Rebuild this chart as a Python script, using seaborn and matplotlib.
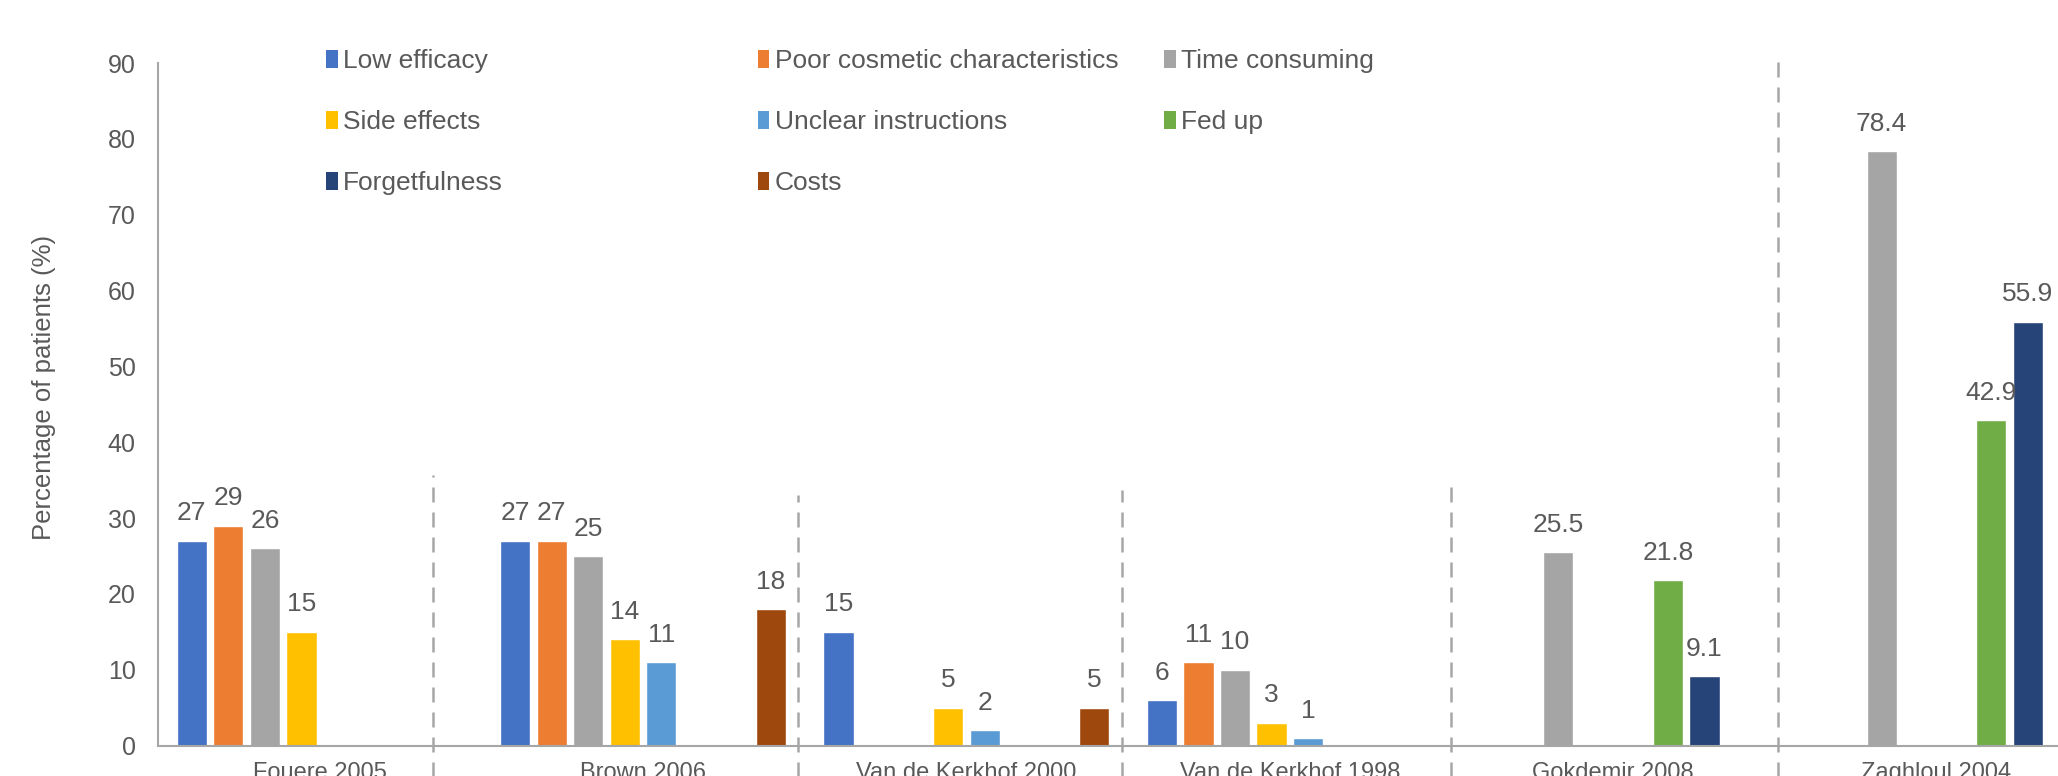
import pandas as pd
import matplotlib
matplotlib.use("Agg")
from matplotlib import pyplot as plt
from matplotlib.patches import Patch
import seaborn as sns

studies = ["Fouere 2005", "Brown 2006", "Van de Kerkhof 2000",
           "Van de Kerkhof 1998", "Gokdemir 2008", "Zaghloul 2004"]
reasons = ["Low efficacy", "Poor cosmetic characteristics", "Time consuming",
           "Side effects", "Unclear instructions", "Fed up", "Forgetfulness", "Costs"]
colors = ["#4472C4", "#ED7D31", "#A5A5A5", "#FFC000",
          "#5B9BD5", "#70AD47", "#264478", "#9E480E"]

# one list per reason, one value per study (None = not reported)
low_efficacy = [27, 27, 15, 6, None, None]
poor_cosmetic = [29, 27, None, 11, None, None]
time_consuming = [26, 25, None, 10, 25.5, 78.4]
side_effects = [15, 14, 5, 3, None, None]
unclear_instructions = [None, 11, 2, 1, None, None]
fed_up = [None, None, None, None, 21.8, 42.9]
forgetfulness = [None, None, None, None, 9.1, 55.9]
costs = [None, 18, 5, None, None, None]

series = [low_efficacy, poor_cosmetic, time_consuming, side_effects,
          unclear_instructions, fed_up, forgetfulness, costs]

# separators between studies (drawn by hand in the original)
sep_x = [0.35, 1.48, 2.48, 3.5, 4.51]
sep_top = [35.7, 33.0, 33.7, 35.1, 91.4]

rows = []
for reason, vals in zip(reasons, series):
    for study, v in zip(studies, vals):
        if v is not None:
            rows.append({"Study": study, "Reason": reason, "Percentage": v})
df = pd.DataFrame(rows)

sns.set_style("white")
plt.rcParams["font.family"] = ["Liberation Sans", "DejaVu Sans"]
text_color = "#595959"
line_color = "#A6A6A6"

fig = plt.figure(figsize=(20.58, 7.76), dpi=100)
ax = fig.add_axes([0.0768, 0.0393, 0.9427, 0.8795])

sns.barplot(data=df, x="Study", y="Percentage", hue="Reason",
            order=studies, hue_order=reasons, palette=colors, saturation=1,
            width=0.904, gap=0.174, dodge=True, legend=False, ax=ax)

for container in ax.containers:
    ax.bar_label(container, fmt="{:g}", padding=11, fontsize=19, color=text_color)

for x, top in zip(sep_x, sep_top):
    ax.plot([x, x], [-5, top], color=line_color, lw=1.8, ls=(0, (6, 4)),
            clip_on=False, zorder=0)

ax.set_xlim(-0.5, 5.5)
ax.set_ylim(0, 90)
ax.set_yticks(range(0, 91, 10))
ax.set_xlabel("")
ax.set_ylabel("Percentage of patients (%)", fontsize=18.5, color=text_color, labelpad=37)
ax.yaxis.label.set_y(0.525)
ax.tick_params(axis="y", length=0, pad=16, labelsize=18, labelcolor=text_color)
ax.tick_params(axis="x", length=0, pad=12, labelsize=17, labelcolor=text_color)

for side in ["top", "right"]:
    ax.spines[side].set_visible(False)
for side in ["left", "bottom"]:
    ax.spines[side].set_color(line_color)
    ax.spines[side].set_linewidth(1.5)

# legend: three columns placed separately
handles = [Patch(facecolor=c, edgecolor="none") for c in colors]
columns = [[0, 3, 6], [1, 4, 7], [2, 5]]
col_x = [0.0865, 0.309, 0.5186]
legends = []
for idx, x in zip(columns, col_x):
    leg = ax.legend([handles[i] for i in idx], [reasons[i] for i in idx],
                    loc="upper left", bbox_to_anchor=(x, 1.020),
                    frameon=False, fontsize=19, labelcolor=text_color,
                    handlelength=0.45, handleheight=0.7, handletextpad=0.2,
                    labelspacing=1.4, borderaxespad=0, borderpad=0)
    legends.append(leg)
for leg in legends[:-1]:
    ax.add_artist(leg)

fig.savefig("out.png", dpi=100)
